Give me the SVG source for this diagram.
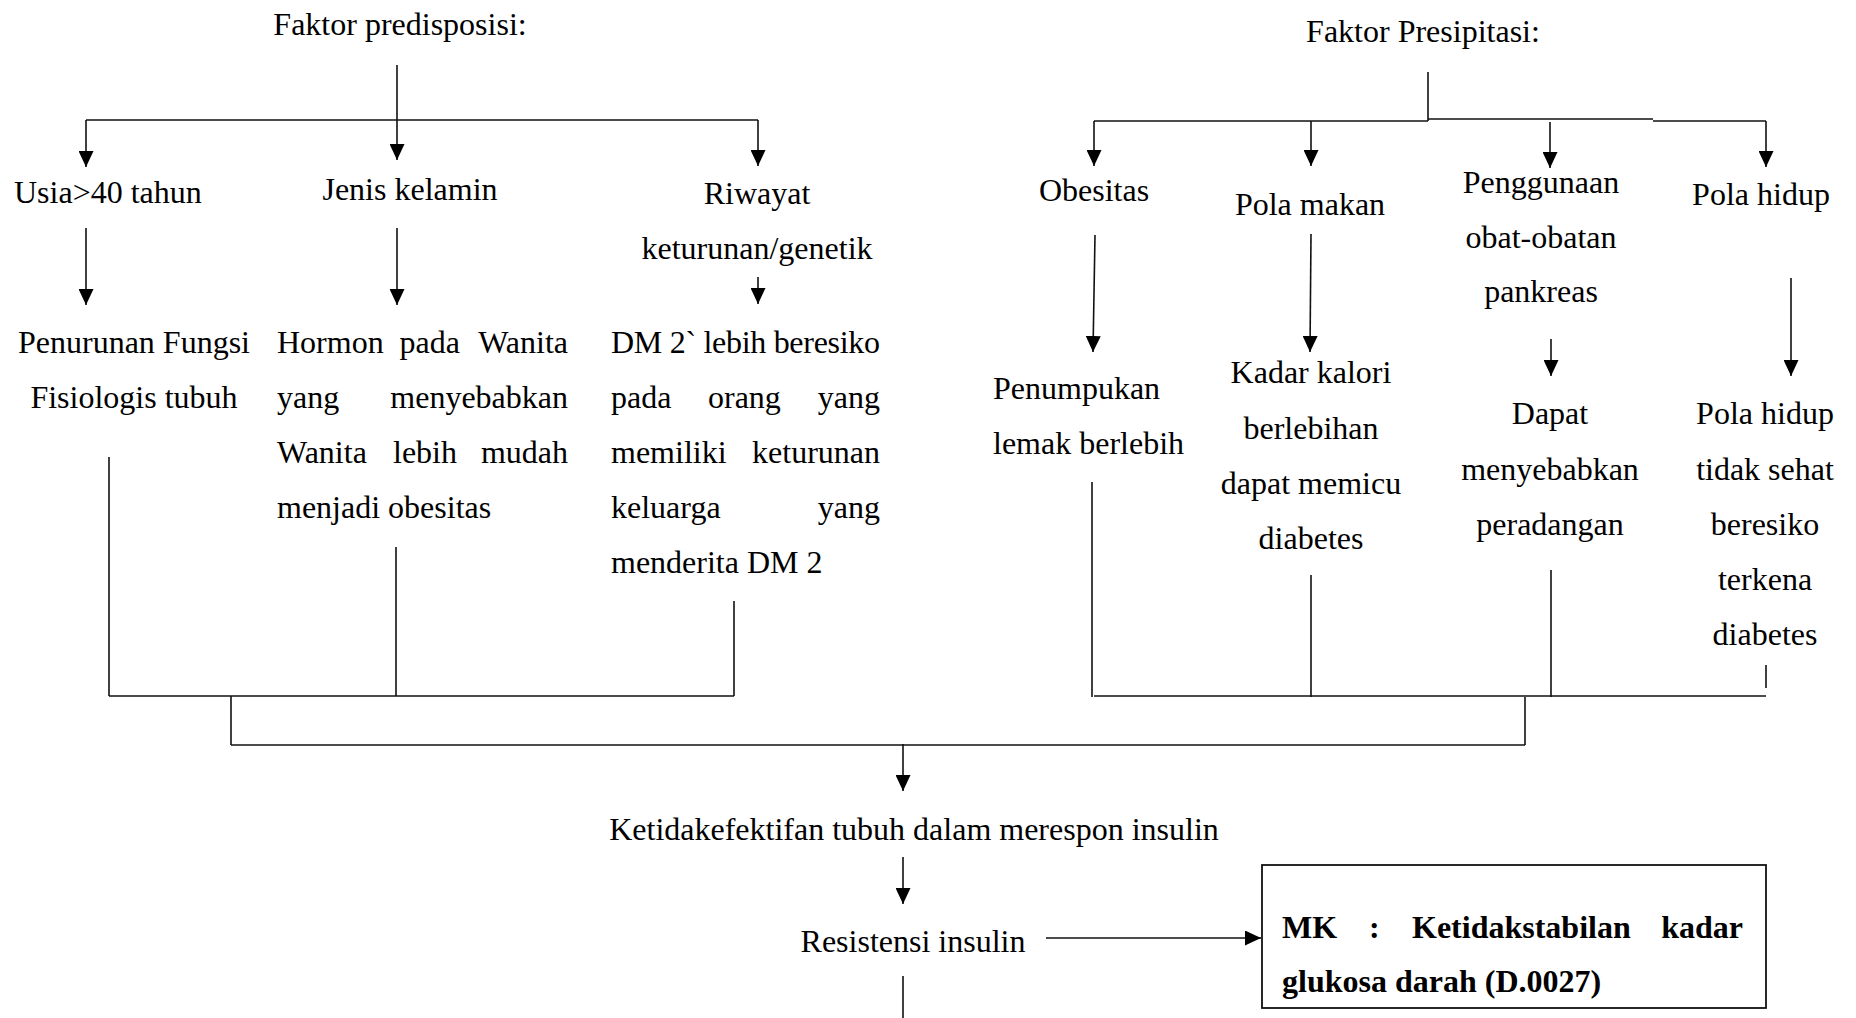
<svg xmlns="http://www.w3.org/2000/svg" width="1856" height="1018" viewBox="0 0 1856 1018">
<style>
text{font-family:"Liberation Serif","Times New Roman",serif;font-size:32px;fill:#000}
.c{text-anchor:middle}
.e{text-anchor:end}
.b{font-weight:bold}
.ln{stroke:#111;stroke-width:1.6;fill:none}
.ar{stroke:#111;stroke-width:1.6;fill:none;marker-end:url(#ah)}
</style>
<defs>
<marker id="ah" viewBox="0 0 16 15" refX="16" refY="7.5" markerWidth="16" markerHeight="15" markerUnits="userSpaceOnUse" orient="auto">
<path d="M0,0 L16,7.5 L0,15 z" fill="#000"/>
</marker>
</defs>
<rect width="1856" height="1018" fill="#fff"/>

<g id="connectors">
<line class="ln" x1="397" y1="65" x2="397" y2="121"/>
<line class="ar" x1="397" y1="121" x2="397" y2="160"/>
<line class="ln" x1="86" y1="120" x2="758" y2="120"/>
<line class="ar" x1="86" y1="120" x2="86" y2="167"/>
<line class="ar" x1="758" y1="120" x2="758" y2="166"/>
<line class="ar" x1="86" y1="228" x2="86" y2="305"/>
<line class="ar" x1="397" y1="228" x2="397" y2="305"/>
<line class="ar" x1="758" y1="277" x2="758" y2="304"/>
<line class="ln" x1="109" y1="457" x2="109" y2="696"/>
<line class="ln" x1="396" y1="547" x2="396" y2="696"/>
<line class="ln" x1="734" y1="601" x2="734" y2="696"/>
<line class="ln" x1="109" y1="696" x2="734" y2="696"/>
<line class="ln" x1="231" y1="696" x2="231" y2="745"/>
<line class="ln" x1="231" y1="745" x2="1525" y2="745"/>
<line class="ln" x1="1525" y1="697" x2="1525" y2="745"/>
<line class="ar" x1="903" y1="744" x2="903" y2="791"/>
<line class="ar" x1="903" y1="857" x2="903" y2="904"/>
<line class="ar" x1="1046" y1="938" x2="1261" y2="938"/>
<line class="ln" x1="903" y1="976" x2="903" y2="1018"/>

<line class="ln" x1="1428" y1="72" x2="1428" y2="121"/>
<line class="ln" x1="1094" y1="121" x2="1428" y2="121"/>
<line class="ln" x1="1428" y1="119" x2="1653" y2="119"/>
<line class="ln" x1="1653" y1="121" x2="1766" y2="121"/>
<line class="ar" x1="1094" y1="121" x2="1094" y2="166"/>
<line class="ar" x1="1311" y1="121" x2="1311" y2="166"/>
<line class="ar" x1="1550" y1="122" x2="1550" y2="168"/>
<line class="ar" x1="1766" y1="121" x2="1766" y2="167"/>
<line class="ar" x1="1095" y1="235" x2="1093" y2="352"/>
<line class="ar" x1="1311" y1="234" x2="1310" y2="352"/>
<line class="ar" x1="1551" y1="339" x2="1551" y2="376"/>
<line class="ar" x1="1791" y1="278" x2="1791" y2="376"/>
<line class="ln" x1="1092" y1="482" x2="1092" y2="697"/>
<line class="ln" x1="1311" y1="575" x2="1311" y2="697"/>
<line class="ln" x1="1551" y1="570" x2="1551" y2="697"/>
<line class="ln" x1="1766" y1="665" x2="1766" y2="688"/>
<line class="ln" x1="1094" y1="696" x2="1766" y2="696"/>
</g>

<g id="faktor-predisposisi"><text class="c" x="400" y="35">Faktor predisposisi:</text></g>
<g id="faktor-presipitasi"><text class="c" x="1423" y="42">Faktor Presipitasi:</text></g>

<g id="usia"><text x="14" y="203">Usia&gt;40 tahun</text></g>
<g id="jenis-kelamin"><text class="c" x="410" y="200">Jenis kelamin</text></g>
<g id="riwayat">
<text class="c" x="757" y="204">Riwayat</text>
<text class="c" x="757" y="259">keturunan/genetik</text>
</g>

<g id="penurunan-fungsi">
<text class="c" x="134" y="353">Penurunan Fungsi</text>
<text class="c" x="134" y="408">Fisiologis tubuh</text>
</g>

<g id="hormon">
<text y="353"><tspan x="277">Hormon</tspan><tspan x="399.5">pada</tspan></text>
<text class="e" x="568" y="353">Wanita</text>
<text x="277" y="408">yang</text>
<text class="e" x="568" y="408">menyebabkan</text>
<text y="463"><tspan x="277">Wanita</tspan><tspan x="393">lebih</tspan></text>
<text class="e" x="568" y="463">mudah</text>
<text x="277" y="518">menjadi obesitas</text>
</g>

<g id="dm2">
<text x="611" y="353" textLength="269" lengthAdjust="spacing">DM 2` lebih beresiko</text>
<text y="408"><tspan x="611">pada</tspan><tspan x="708">orang</tspan></text>
<text class="e" x="880" y="408">yang</text>
<text x="611" y="463">memiliki</text>
<text class="e" x="880" y="463">keturunan</text>
<text x="611" y="518">keluarga</text>
<text class="e" x="880" y="518">yang</text>
<text x="611" y="573">menderita DM 2</text>
</g>

<g id="obesitas"><text class="c" x="1094" y="201">Obesitas</text></g>
<g id="pola-makan"><text class="c" x="1310" y="215">Pola makan</text></g>
<g id="penggunaan">
<text class="c" x="1541" y="193">Penggunaan</text>
<text class="c" x="1541" y="248">obat-obatan</text>
<text class="c" x="1541" y="302">pankreas</text>
</g>
<g id="pola-hidup"><text class="c" x="1761" y="205">Pola hidup</text></g>

<g id="penumpukan">
<text x="993" y="399">Penumpukan</text>
<text x="993" y="454">lemak berlebih</text>
</g>
<g id="kadar-kalori">
<text class="c" x="1311" y="383">Kadar kalori</text>
<text class="c" x="1311" y="439">berlebihan</text>
<text class="c" x="1311" y="494">dapat memicu</text>
<text class="c" x="1311" y="549">diabetes</text>
</g>
<g id="dapat">
<text class="c" x="1550" y="424">Dapat</text>
<text class="c" x="1550" y="480">menyebabkan</text>
<text class="c" x="1550" y="535">peradangan</text>
</g>
<g id="pola-hidup-tidak-sehat">
<text class="c" x="1765" y="424">Pola hidup</text>
<text class="c" x="1765" y="480">tidak sehat</text>
<text class="c" x="1765" y="535">beresiko</text>
<text class="c" x="1765" y="590">terkena</text>
<text class="c" x="1765" y="645">diabetes</text>
</g>

<g id="ketidakefektifan"><text class="c" x="914" y="840">Ketidakefektifan tubuh dalam merespon insulin</text></g>
<g id="resistensi"><text class="c" x="913" y="952">Resistensi insulin</text></g>

<g id="mk">
<rect x="1262" y="865" width="504" height="143" fill="#fff" stroke="#111" stroke-width="1.8"/>
<text class="b" y="938"><tspan x="1282">MK</tspan><tspan x="1369">:</tspan><tspan x="1412">Ketidakstabilan</tspan></text>
<text class="b e" x="1743" y="938">kadar</text>
<text class="b" x="1282" y="992">glukosa darah (D.0027)</text>
</g>
</svg>
